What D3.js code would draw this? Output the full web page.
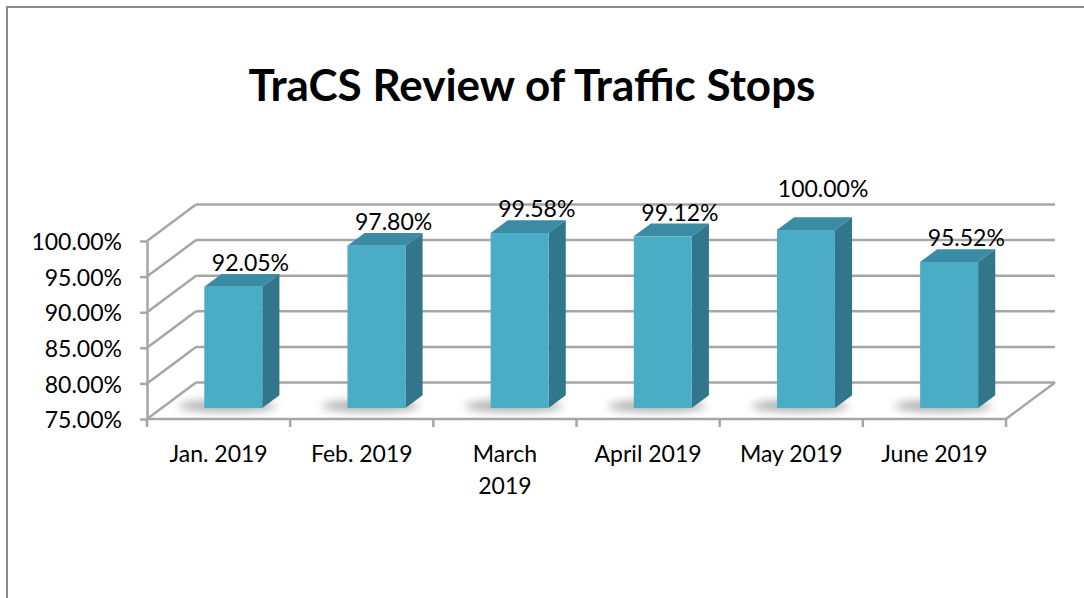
<!DOCTYPE html>
<html>
<head>
<meta charset="utf-8">
<script src="https://cdn.jsdelivr.net/npm/d3@7"></script>
<style>
  html, body { margin: 0; padding: 0; background: #fff; }
  svg { display: block; }
  text { font-family: Lato, "Open Sans", sans-serif; fill: #000; }
</style>
</head>
<body>
<svg id="chart" width="1084" height="598"></svg>
<script>
// ---- data ----
const title = "TraCS Review of Traffic Stops";
const categories = ["Jan. 2019", "Feb. 2019", "March 2019", "April 2019", "May 2019", "June 2019"];
const categoryLabelLines = [["Jan. 2019"], ["Feb. 2019"], ["March", "2019"], ["April 2019"], ["May 2019"], ["June 2019"]];
const values = [0.9205, 0.9780, 0.9958, 0.9912, 1.0000, 0.9552];
const yTickValues = [0.75, 0.80, 0.85, 0.90, 0.95, 1.00];

// ---- layout ----
const svg = d3.select("#chart");
const W = 1084, H = 598;
const frontLeft = 147, frontRight = 1006;
const floorY = 419, topY = 241;
const DX = 49, DY = -36.5;         // full depth offset of the plot box
const t0 = 0.30, t1 = 0.65;        // bar depth range (fraction of box depth)
const barFrac = 0.405;
const gridColor = "#a6a6a6";

const x = d3.scaleBand().domain(categories).range([frontLeft, frontRight]).paddingInner(0).paddingOuter(0);
const yMin = yTickValues[0], yMax = yTickValues[yTickValues.length - 1];
const y = d3.scaleLinear().domain([yMin, yMax]).range([floorY, topY]);
const fmt = d3.format(".2%");

const defs = svg.append("defs");
defs.append("filter").attr("id", "blur").attr("x", "-50%").attr("y", "-80%").attr("width", "200%").attr("height", "260%")
  .append("feGaussianBlur").attr("stdDeviation", 4.5);

// chart frame (extends beyond the visible area like the reference)
svg.append("rect").attr("x", 7).attr("y", 7).attr("width", W + 40).attr("height", H + 40)
  .attr("fill", "#fff").attr("stroke", "#8a8a8a").attr("stroke-width", 2);

// title
svg.append("text").attr("x", 532).attr("y", 101).attr("text-anchor", "middle")
  .style("font-weight", "bold").style("font-size", "44px").text(title);

const grid = svg.append("g").attr("fill", "none").attr("stroke", gridColor).attr("stroke-width", 2.5);

// back wall gridlines and left wall diagonals
yTickValues.forEach(v => {
  const yy = y(v);
  grid.append("line").attr("x1", frontLeft + DX).attr("x2", frontRight + DX).attr("y1", yy + DY).attr("y2", yy + DY);
  grid.append("line").attr("x1", frontLeft).attr("x2", frontLeft + DX).attr("y1", yy).attr("y2", yy + DY);
});
// floor
grid.append("line").attr("x1", frontLeft).attr("x2", frontRight).attr("y1", floorY).attr("y2", floorY);
grid.append("line").attr("x1", frontRight).attr("x2", frontRight + DX).attr("y1", floorY).attr("y2", floorY + DY);

// y axis
const yAxis = svg.append("g").attr("transform", `translate(${frontLeft},0)`)
  .call(d3.axisLeft(y).tickValues(yTickValues).tickFormat(fmt).tickSize(7).tickSizeOuter(0).tickPadding(18));
yAxis.select(".domain").attr("stroke", gridColor).attr("stroke-width", 2.5);
yAxis.selectAll(".tick line").attr("stroke", gridColor).attr("stroke-width", 2.5);
yAxis.selectAll(".tick text").style("font-size", "23px").style("font-family", "Lato, sans-serif").attr("fill", "#000").attr("dy", "0.38em");

// x axis boundary ticks
const bounds = categories.map(c => x(c)).concat([x.range()[1]]);
svg.append("g").selectAll("line").data(bounds).join("line")
  .attr("x1", d => d).attr("x2", d => d).attr("y1", floorY).attr("y2", floorY + 8)
  .attr("stroke", gridColor).attr("stroke-width", 2.5);

// x labels
const xl = svg.append("g");
categories.forEach((c, i) => {
  const t = xl.append("text").attr("x", x(c) + x.bandwidth() / 2).attr("y", 462)
    .attr("text-anchor", "middle").style("font-size", "23px");
  categoryLabelLines[i].forEach((line, j) => {
    t.append("tspan").attr("x", x(c) + x.bandwidth() / 2).attr("dy", j === 0 ? 0 : 32).text(line);
  });
});

// bars
const bw = x.bandwidth(), barW = bw * barFrac;
const sdx = DX * (t1 - t0), sdy = DY * (t1 - t0);
const barsG = svg.append("g");
const labelsG = svg.append("g");
const data = categories.map((c, i) => ({ c, v: values[i] }));
data.forEach(d => {
  const xL = x(d.c) + (bw - barW) / 2 + DX * t0;
  const xR = xL + barW;
  const yB = y(yMin) + DY * t0;
  const yT = y(d.v) + DY * t0;
  const g = barsG.append("g");
  // soft floor shadow
  g.append("ellipse").attr("cx", (xL + xR) / 2 - 6).attr("cy", yB - 2)
    .attr("rx", barW / 2 + 20).attr("ry", 6).attr("fill", "#7a7a7a").attr("opacity", 0.6)
    .attr("filter", "url(#blur)");
  // side
  g.append("polygon").attr("points", [[xR, yB], [xR + sdx, yB + sdy], [xR + sdx, yT + sdy], [xR, yT]].join(" "))
    .attr("fill", "#31768b");
  // top
  g.append("polygon").attr("points", [[xL, yT], [xR, yT], [xR + sdx, yT + sdy], [xL + sdx, yT + sdy]].join(" "))
    .attr("fill", "#3a8ba3");
  // front
  g.append("rect").attr("x", xL).attr("y", yT).attr("width", barW).attr("height", yB - yT)
    .attr("fill", "#4bacc6");
  // value label: above the bar; a bar at the axis maximum gets its label above the back wall
  const ly = d.v >= yMax ? y(yMax) + DY - 8 : yT + sdy - 3;
  labelsG.append("text").attr("x", (xL + xR) / 2 + sdx).attr("y", ly)
    .attr("text-anchor", "middle").style("font-size", "23px").text(fmt(d.v));
});
</script>
</body>
</html>
